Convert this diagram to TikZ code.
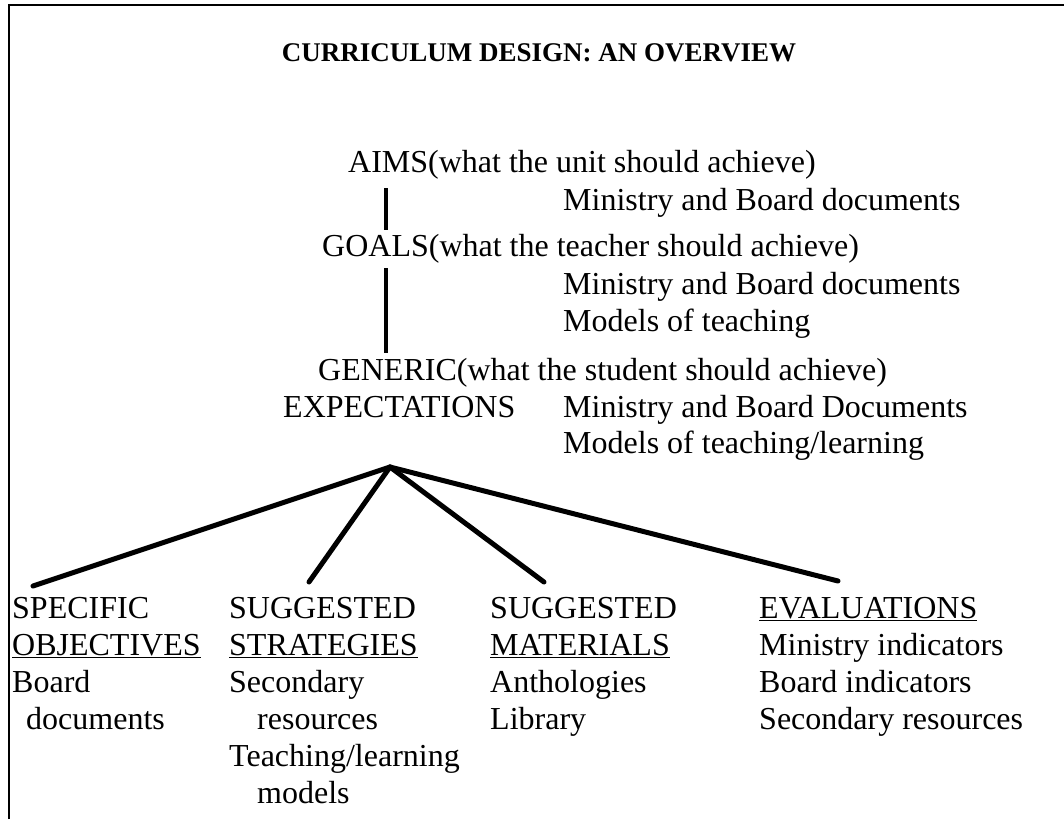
\documentclass[tikz,border=0pt]{standalone}
\usepackage{fontspec}
\setmainfont{Liberation Serif}
\tikzset{txt/.style={anchor=base west, inner sep=0pt, font=\fontsize{32}{37}\selectfont}}
\tikzset{column/.style={anchor=north west, inner sep=0pt, align=left, font=\fontsize{32}{37}\selectfont}}
\tikzset{heading/.style={anchor=base, inner sep=0pt, font=\fontsize{27}{31}\selectfont\bfseries}}
\tikzset{stem/.style={line width=4pt}}
\tikzset{branch/.style={line width=5pt, line cap=round}}

\begin{document}
\begin{tikzpicture}[x=1pt, y=-1pt]
\useasboundingbox (0,0) rectangle (1064,819);

% frame, open at the right and at the bottom
\draw[line width=2pt] (9,819) -- (9,5) -- (1064,5);

\node[heading] (title) at (539,61) {CURRICULUM DESIGN: AN OVERVIEW};

% the chain down the middle
\node[txt] (aims) at (348,172) {AIMS(what the unit should achieve)};
\node[txt] (aimsrc) at (563,210) {Ministry and Board documents};
\node[txt] (goals) at (322,256) {GOALS(what the teacher should achieve)};
\node[txt] (goalsrc) at (563,294) {Ministry and Board documents};
\node[txt] (goalmod) at (563,331) {Models of teaching};
\node[txt] (generic) at (318,380) {GENERIC(what the student should achieve)};
\node[txt] (expect) at (283,417) {EXPECTATIONS};
\node[txt] (expsrc) at (563,417) {Ministry and Board Documents};
\node[txt] (expmod) at (563,453) {Models of teaching/learning};

\coordinate (aimsbar) at (386,188);
\coordinate (goalsbar) at (386,268);
\draw[stem] (aimsbar) -- (aimsbar |- 0,230);
\draw[stem] (goalsbar) -- (goalsbar |- 0,353);

% the four columns
\node[column] (spec) at (12,597) {SPECIFIC\\\underline{OBJECTIVES}\\Board\\\hspace{14pt}documents};
\node[column] (strat) at (229,597) {SUGGESTED\\\underline{STRATEGIES}\\Secondary\\\hspace{28pt}resources\\Teaching/learning\\\hspace{28pt}models};
\node[column] (mat) at (490,597) {SUGGESTED\\\underline{MATERIALS}\\Anthologies\\Library};
\node[column] (eval) at (759,597) {\underline{EVALUATIONS}\\Ministry indicators\\Board indicators\\Secondary resources};

% fan out of EXPECTATIONS
\coordinate (apex) at (390,467);
\coordinate (specend) at (33,586);
\coordinate (stratend) at (309,582);
\coordinate (matend) at (544,582);
\coordinate (evalend) at (838,581);
\foreach \e in {specend,stratend,matend,evalend}{
  \draw[branch] (apex) -- (\e);
}

\end{tikzpicture}
\end{document}
